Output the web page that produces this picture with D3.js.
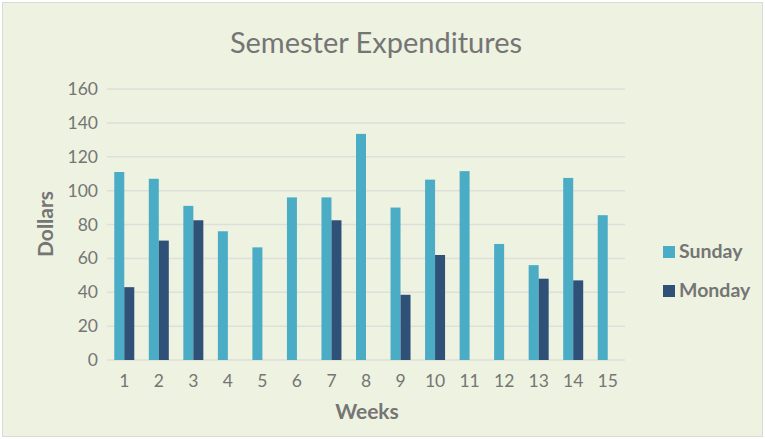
<!DOCTYPE html>
<html>
<head>
<meta charset="utf-8">
<script src="https://cdn.jsdelivr.net/npm/d3@7"></script>
<style>
  body { margin: 0; background: #fff; }
  svg text { font-family: Lato, "Open Sans", sans-serif; fill: #757575; }
</style>
</head>
<body>
<div id="graph"></div>
<script>
var weeks = ["1","2","3","4","5","6","7","8","9","10","11","12","13","14","15"];
var sunday = [111, 107, 91, 76, 66.5, 96, 96, 133.5, 90, 106.5, 111.5, 68.5, 56, 107.5, 85.5];
var monday = [43, 70.5, 82.5, null, null, null, 82.5, null, 38.5, 62, null, null, 48, 47, null];
var seriesNames = ["Sunday", "Monday"];
var colors = ["#4BACC6", "#2F5077"];
var yTicks = [0, 20, 40, 60, 80, 100, 120, 140, 160];

var W = 765, H = 439;
var margin = {top: 89, left: 107, right: 140, bottom: 79};
var w = W - margin.left - margin.right,
    h = H - margin.top - margin.bottom;

var svg = d3.select("#graph").append("svg")
    .attr("width", W).attr("height", H);

svg.append("rect")
    .attr("x", 2.5).attr("y", 2.5)
    .attr("width", W - 5).attr("height", H - 5)
    .attr("fill", "#EEF2E0")
    .attr("stroke", "#D9D9D9");

svg.append("text")
    .attr("x", 376).attr("y", 53)
    .attr("text-anchor", "middle")
    .style("font-size", "29px")
    .text("Semester Expenditures");

var g = svg.append("g")
    .attr("transform", "translate(" + margin.left + "," + margin.top + ")");

var x = d3.scaleBand().domain(weeks).range([0, w]);
var y = d3.scaleLinear().domain([0, 160]).range([h, 0]);
var barW = 10;

// gridlines
g.selectAll(".grid")
    .data(yTicks)
    .enter().append("line")
    .attr("x1", 0).attr("x2", w)
    .attr("y1", function(d) { return y(d); })
    .attr("y2", function(d) { return y(d); })
    .attr("stroke", "#DEDFDA")
    .attr("stroke-width", 1.5);

var yAxis = g.append("g")
    .call(d3.axisLeft(y).tickValues(yTicks).tickSize(0).tickPadding(9));
yAxis.select(".domain").remove();
yAxis.selectAll("text").style("font-size", "17.5px").attr("fill", "#757575");

var xAxis = g.append("g")
    .attr("transform", "translate(0," + h + ")")
    .call(d3.axisBottom(x).tickSize(0).tickPadding(15));
xAxis.select(".domain").remove();
xAxis.selectAll("text").style("font-size", "17.5px").attr("fill", "#757575");

[sunday, monday].forEach(function(vals, si) {
    g.selectAll(".bar" + si)
        .data(weeks.map(function(wk, i) { return {wk: wk, v: vals[i]}; })
            .filter(function(d) { return d.v != null; }))
        .enter().append("rect")
        .attr("x", function(d) { return x(d.wk) + x.bandwidth() / 2 - barW + si * barW; })
        .attr("y", function(d) { return y(d.v); })
        .attr("width", barW)
        .attr("height", function(d) { return h - y(d.v); })
        .attr("fill", colors[si]);
});

svg.append("text")
    .attr("x", 367).attr("y", 419)
    .attr("text-anchor", "middle")
    .style("font-size", "21px").style("font-weight", "bold")
    .text("Weeks");

svg.append("text")
    .attr("transform", "translate(53,224) rotate(-90)")
    .attr("text-anchor", "middle")
    .style("font-size", "21px").style("font-weight", "bold")
    .text("Dollars");

var legend = svg.selectAll(".legend")
    .data(seriesNames)
    .enter().append("g")
    .attr("transform", function(d, i) { return "translate(663," + (246 + i * 39) + ")"; });
legend.append("rect")
    .attr("width", 12).attr("height", 12)
    .attr("fill", function(d, i) { return colors[i]; });
legend.append("text")
    .attr("x", 16).attr("y", 12)
    .style("font-size", "19.5px").style("font-weight", "bold")
    .text(function(d) { return d; });
</script>
</body>
</html>
